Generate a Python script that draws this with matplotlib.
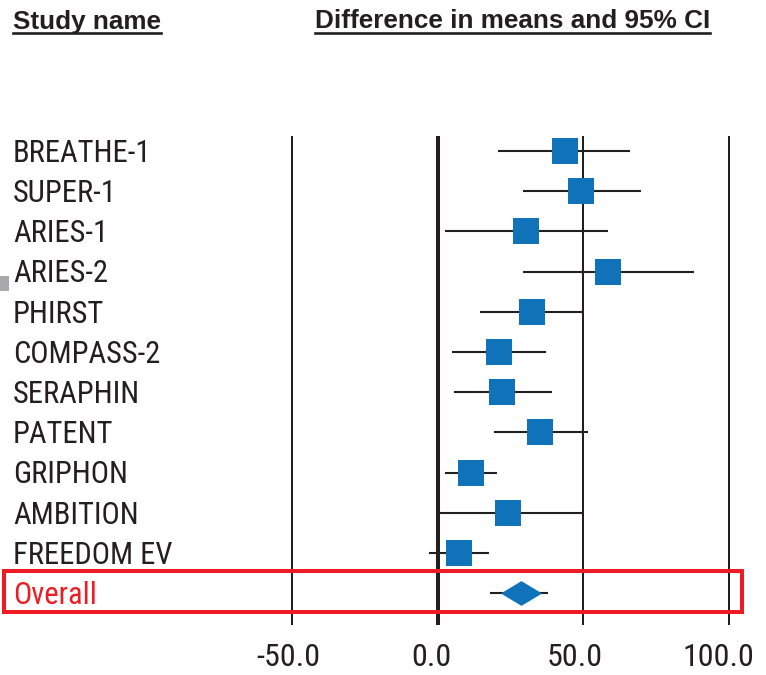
import matplotlib
matplotlib.use("Agg")
import matplotlib.pyplot as plt
from matplotlib.path import Path
from matplotlib.patches import Rectangle

# study-level results: difference in means with 95% CI
studies = ["BREATHE-1", "SUPER-1", "ARIES-1", "ARIES-2", "PHIRST", "COMPASS-2",
           "SERAPHIN", "PATENT", "GRIPHON", "AMBITION", "FREEDOM EV"]
diff = [43.8, 49.2, 30.4, 58.5, 32.4, 21.1, 22.2, 35.2, 11.5, 24.2, 7.4]
lower = [20.6, 29.2, 2.4, 29.2, 14.7, 5.1, 5.7, 19.5, 2.4, 0.0, -2.8]
upper = [66.1, 69.8, 58.6, 87.9, 50.0, 37.1, 39.2, 51.6, 20.5, 50.0, 17.8]

overall_label = "Overall"
overall = 28.6
overall_lower = 18.0
overall_upper = 38.0

ticks = [-50, 0, 50, 100]
tick_labels = ["-50.0", "0.0", "50.0", "100.0"]

narrow = ['Roboto Condensed', 'Noto Sans Condensed', 'Liberation Sans Narrow', 'Noto Sans']
plt.rcParams['font.family'] = narrow
plt.rcParams['font.stretch'] = 'condensed'

W, H = 766, 675
ink = '#231F20'
blue = '#1073BA'
red = '#ED1C24'

fig = plt.figure(figsize=(W / 100, H / 100), dpi=100)
ax = fig.add_axes([0, 0, 1, 1])
ax.axis('off')

# rows are 40.2 px apart, first row centred at y=151 px
row0, step = 151, 40.2
ax.set_xlim(-150, 112.6)
ax.set_ylim((H - row0) / step, -row0 / step)


def fig_xy(px, py):
    return px / W, 1 - py / H


n = len(studies)
rows = list(range(n))
overall_row = n

# reference lines
for t in ticks:
    ax.vlines(t, (136 - row0) / step, (625 - row0) / step, color=ink,
              lw=2.9 if t == 0 else 1.45, zorder=2)

# confidence intervals and point estimates
ax.hlines(rows, lower, upper, color=ink, lw=1.5, zorder=3)
ax.plot(diff, rows, ls='none', marker='s', ms=18.7, mfc=blue, mew=0, zorder=4)

# pooled estimate
diamond = Path([(-1, 0), (0, 0.6), (1, 0), (0, -0.6), (-1, 0)],
               [Path.MOVETO, Path.LINETO, Path.LINETO, Path.LINETO, Path.CLOSEPOLY])
ax.hlines(overall_row, overall_lower, overall_upper, color=ink, lw=1.5, zorder=3)
ax.plot([overall], [overall_row], ls='none', marker=diamond, ms=29.7,
        mfc=blue, mew=0, zorder=4)

# study labels
lab_x = -150 + 13 / 2.917
for i, name in enumerate(studies):
    ax.text(lab_x, i + 0.27, name, fontsize=22, color=ink, va='baseline', ha='left')
ax.text(lab_x, overall_row + 0.27, overall_label, fontsize=22, color=red,
        va='baseline', ha='left')

# highlight box around the pooled row
x0, y0 = fig_xy(3.5, 612)
x1, y1 = fig_xy(742, 571)
fig.patches.append(Rectangle((x0, y0), x1 - x0, y1 - y0, transform=fig.transFigure,
                             fill=False, ec=red, lw=2.9, zorder=1))

# small grey marker at the left edge
gx0, gy0 = fig_xy(0, 290.7)
gx1, gy1 = fig_xy(9, 276)
fig.patches.append(Rectangle((gx0, gy0), gx1 - gx0, gy1 - gy0, transform=fig.transFigure,
                             color='#A7A9AC', lw=0))

# axis tick labels, nudged left a little more towards the right
nudge_px = [-3, -6, -9, -11]
for t, lab, dx in zip(ticks, tick_labels, nudge_px):
    ax.text(t + dx / 2.917, (666 - row0) / step, lab, fontsize=23, color=ink,
            ha='center', va='baseline')

# underlined column headers
headers = [("Study name", 13), ("Difference in means and 95% CI", 315)]
htexts = []
for txt, px in headers:
    hx, hy = fig_xy(px, 28.5)
    htexts.append(fig.text(hx, hy, txt, fontsize=18.8, fontweight='bold', color=ink,
                           ha='left', va='baseline',
                           family=['Liberation Sans'], fontstretch='normal'))
fig.canvas.draw()
r = fig.canvas.get_renderer()
for t in htexts:
    bb = t.get_window_extent(r).transformed(fig.transFigure.inverted())
    uy = 1 - 33 / H
    fig.add_artist(plt.Line2D([bb.x0, bb.x1], [uy, uy], transform=fig.transFigure,
                              color=ink, lw=1.9))

fig.savefig("out.png", dpi=100)
